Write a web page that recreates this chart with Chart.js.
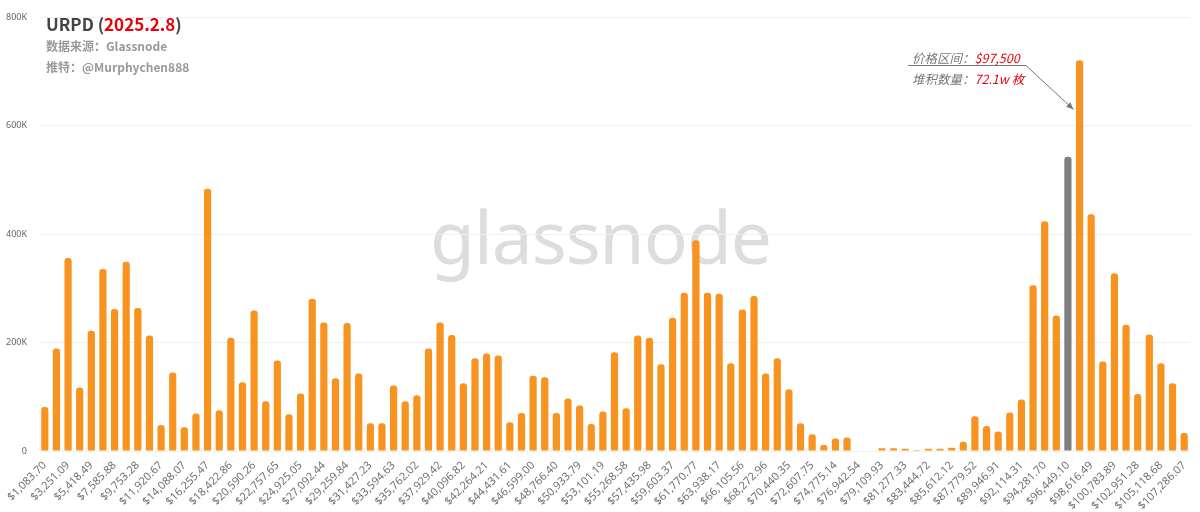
<!DOCTYPE html>
<html lang="zh">
<head>
    <meta charset="UTF-8">
    <title>URPD (2025.2.8)</title>
    <script src="https://cdn.jsdelivr.net/npm/chart.js"></script>
    <style>
        html, body { margin: 0; padding: 0; background: #fff; }
        #wrap { position: relative; width: 1200px; height: 512px; overflow: hidden; }
        #myChart { position: absolute; left: 0; top: 0; z-index: 1; }
        .wm { position: absolute; left: 430px; top: 186px; z-index: 0;
              font-family: "Noto Sans", "Open Sans", sans-serif; font-size: 73px;
              color: #dddddd; letter-spacing: -1px; }
        .title { position: absolute; left: 46px; top: 13px; z-index: 2;
                 font-family: "Noto Sans CJK SC", "Noto Sans", sans-serif; }
        .t1 { font-size: 17px; font-weight: bold; color: #444; line-height: 22px; }
        .t1 span { color: #e8000b; }
        .t2 { font-size: 12px; font-weight: bold; color: #999; line-height: 21px; }
        .note { position: absolute; left: 912px; top: 47px; z-index: 2;
                font-family: "Noto Sans CJK SC", sans-serif; font-size: 12.5px;
                font-style: italic; color: #777; line-height: 21px; }
        .note span { color: #e8000b; }
    </style>
</head>
<body>
<div id="wrap">
    <div class="wm">glassnode</div>
    <canvas id="myChart" width="1200" height="512"></canvas>
    <div class="title">
        <div class="t1">URPD (<span>2025.2.8</span>)</div>
        <div class="t2">数据来源：Glassnode</div>
        <div class="t2">推特：@Murphychen888</div>
    </div>
    <div class="note">
        <div>价格区间：<span>$97,500</span></div>
        <div>堆积数量：<span>72.1w 枚</span></div>
    </div>
</div>
<script>
    // price buckets (bin step ~1083.7)
    const priceLabels = [
        '$1,083.70','$2,167.39','$3,251.09','$4,334.79','$5,418.49','$6,502.18','$7,585.88','$8,669.58','$9,753.28','$10,836.97',
        '$11,920.67','$13,004.37','$14,088.07','$15,171.76','$16,255.47','$17,339.16','$18,422.86','$19,506.56','$20,590.26','$21,673.95',
        '$22,757.65','$23,841.35','$24,925.05','$26,008.74','$27,092.44','$28,176.14','$29,259.84','$30,343.53','$31,427.23','$32,510.93',
        '$33,594.63','$34,678.32','$35,762.02','$36,845.72','$37,929.42','$39,013.11','$40,096.82','$41,180.51','$42,264.21','$43,347.91',
        '$44,431.61','$45,515.30','$46,599.00','$47,682.70','$48,766.40','$49,850.09','$50,933.79','$52,017.49','$53,101.19','$54,184.88',
        '$55,268.58','$56,352.28','$57,435.98','$58,519.67','$59,603.37','$60,687.07','$61,770.77','$62,854.47','$63,938.17','$65,021.86',
        '$66,105.56','$67,189.26','$68,272.96','$69,356.65','$70,440.35','$71,524.05','$72,607.75','$73,691.44','$74,775.14','$75,858.84',
        '$76,942.54','$78,026.23','$79,109.93','$80,193.63','$81,277.33','$82,361.02','$83,444.72','$84,528.42','$85,612.12','$86,695.81',
        '$87,779.52','$88,863.21','$89,946.91','$91,030.61','$92,114.31','$93,198.00','$94,281.70','$95,365.40','$96,449.10','$97,532.79',
        '$98,616.49','$99,700.19','$100,783.89','$101,867.58','$102,951.28','$104,034.98','$105,118.68','$106,202.37','$107,286.07'
    ];

    // BTC supply in each bucket
    const supply = [
        81000, 189000, 356000, 117000, 222000, 336000, 262000, 349000, 264000, 213000,
        48000, 145000, 44000, 69000, 484000, 75000, 209000, 127000, 259000, 92000,
        167000, 68000, 106000, 281000, 237000, 134000, 236000, 143000, 51000, 51000,
        121000, 92000, 103000, 189000, 237000, 214000, 125000, 171000, 180000, 176000,
        53000, 70000, 139000, 136000, 70000, 97000, 84000, 50000, 73000, 182000,
        79000, 213000, 209000, 160000, 246000, 292000, 389000, 292000, 290000, 162000,
        261000, 286000, 143000, 171000, 114000, 51000, 31000, 11000, 23000, 25000,
        0, 0, 5000, 5000, 4000, 2000, 4000, 4000, 6000, 17000,
        64000, 46000, 36000, 71000, 95000, 306000, 424000, 250000, 543000, 721000,
        437000, 165000, 328000, 233000, 105000, 215000, 162000, 125000, 33000
    ];

    const currentPriceIdx = 88;   // grey bar = current price bucket
    const noteIdx = 89;           // annotated bucket
    const yTicks = [0, 200000, 400000, 600000, 800000];

    const barColors = supply.map((v, i) => i === currentPriceIdx ? '#7f7f7f' : '#f7931e');

    // arrow from the note text down to the annotated bar
    const arrowPlugin = {
        id: 'arrow',
        afterDraw(chart) {
            const c = chart.ctx;
            const x = chart.scales.x.getPixelForValue(noteIdx) - 6;
            const y = chart.scales.y.getPixelForValue(630000);
            c.save();
            c.strokeStyle = '#777';
            c.fillStyle = '#777';
            c.lineWidth = 1;
            c.beginPath();
            c.moveTo(908, 65.5);
            c.lineTo(1026, 65.5);
            c.lineTo(x, y);
            c.stroke();
            const ang = Math.atan2(y - 65.5, x - 1026);
            c.beginPath();
            c.moveTo(x, y);
            c.lineTo(x - 8 * Math.cos(ang - 0.4), y - 8 * Math.sin(ang - 0.4));
            c.lineTo(x - 8 * Math.cos(ang + 0.4), y - 8 * Math.sin(ang + 0.4));
            c.closePath();
            c.fill();
            c.restore();
        }
    };

    const ctx = document.getElementById('myChart').getContext('2d');
    const myChart = new Chart(ctx, {
        type: 'bar',
        data: {
            labels: priceLabels,
            datasets: [{
                data: supply,
                backgroundColor: barColors,
                barPercentage: 0.62,
                categoryPercentage: 1,
                borderRadius: { topLeft: 3, topRight: 3 },
                borderSkipped: 'bottom'
            }]
        },
        options: {
            responsive: false,
            animation: false,
            layout: { padding: { top: 10, right: 10, left: 2, bottom: 3 } },
            plugins: { legend: { display: false }, tooltip: { enabled: false } },
            scales: {
                x: {
                    grid: { display: false },
                    border: { display: false },
                    afterFit(axis) { axis.height = 58; },
                    ticks: {
                        autoSkip: false,
                        maxRotation: 45,
                        minRotation: 45,
                        padding: 0,
                        color: '#707070',
                        font: { family: 'Noto Sans', size: 11 },
                        callback: function (val, i) { return i % 2 === 0 ? priceLabels[i] : ''; }
                    }
                },
                y: {
                    min: 0,
                    max: 800000,
                    afterBuildTicks(axis) { axis.ticks = yTicks.map(v => ({ value: v })); },
                    afterFit(axis) { axis.width = 37; },
                    grid: { color: '#f0f0f0', drawTicks: false },
                    border: { display: false },
                    ticks: {
                        padding: 12,
                        color: '#666',
                        font: { family: 'Noto Sans', size: 9 },
                        callback: v => v === 0 ? '0' : (v / 1000) + 'K'
                    }
                }
            }
        },
        plugins: [arrowPlugin]
    });
</script>
</body>
</html>
